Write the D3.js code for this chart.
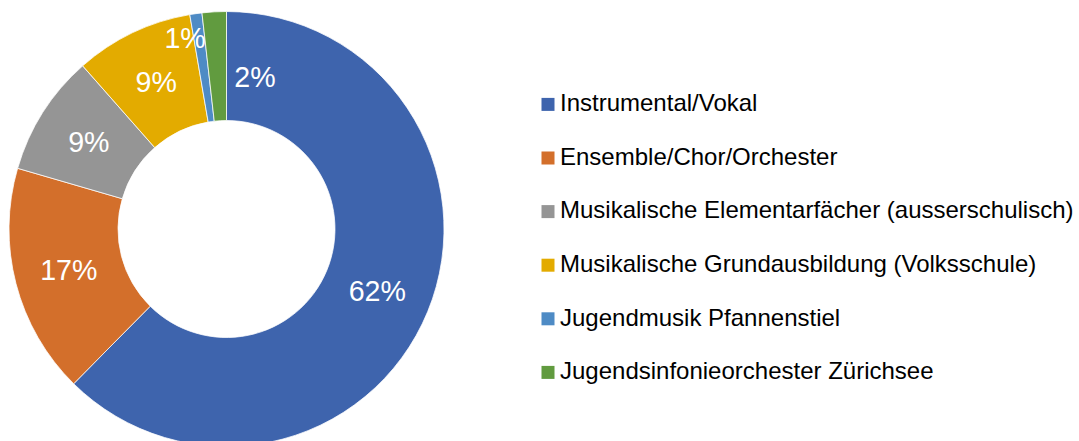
<!DOCTYPE html>
<html>
<head>
<meta charset="utf-8">
<script src="https://cdn.jsdelivr.net/npm/d3@7"></script>
<style>
  html, body { margin: 0; padding: 0; background: #fff; }
  svg { display: block; font-family: "Liberation Sans", Arial, sans-serif; }
</style>
</head>
<body>
<svg width="1079" height="441"></svg>
<script>
// Data
const categories = [
    "Instrumental/Vokal",
    "Ensemble/Chor/Orchester",
    "Musikalische Elementarfächer (ausserschulisch)",
    "Musikalische Grundausbildung (Volksschule)",
    "Jugendmusik Pfannenstiel",
    "Jugendsinfonieorchester Zürichsee"
];
const shares = [62.4, 17.1, 9.0, 8.8, 0.9, 1.8];
const colors = ["#3e64ad", "#d36f2b", "#959595", "#e3ab00", "#4e8bc5", "#619b3f"];

const svg = d3.select("svg"),
    cx = 226.5,
    cy = 229,
    outerR = 217.5,
    innerR = 108.5;

// labels for the two thin slices were dragged off their centroid
const labelShift = { 4: [-18.5, -29.6], 5: [37.7, 10.7] };

const pie = d3.pie().sort(null).value(d => d.v);
const arc = d3.arc().innerRadius(innerR).outerRadius(outerR);
const total = d3.sum(shares);
const fmt = d3.format(".0%");

const rows = categories.map((c, i) => ({ name: c, v: shares[i], color: colors[i] }));
const arcs = pie(rows);

const g = svg.append("g")
    .attr("transform", "translate(" + cx + "," + cy + ")");

g.selectAll("path")
    .data(arcs)
    .join("path")
    .attr("d", arc)
    .attr("fill", d => d.data.color)
    .attr("stroke", "#fff")
    .attr("stroke-width", 0.75);

// data labels
const labelSize = 28.6;
g.selectAll("text")
    .data(arcs)
    .join("text")
    .attr("transform", (d, i) => {
        let c = arc.centroid(d);
        let s = labelShift[i] || [0, 0];
        return "translate(" + (c[0] + s[0]) + "," + (c[1] + s[1] + labelSize * 0.36) + ")";
    })
    .attr("text-anchor", "middle")
    .attr("fill", "#fff")
    .style("font-size", labelSize + "px")
    .text(d => fmt(d.data.v / total));

// Legend
const legendY = d3.scalePoint()
    .domain(categories)
    .range([104.4, 372.4]);

const legend = svg.append("g")
    .selectAll("g")
    .data(rows)
    .join("g")
    .attr("transform", d => "translate(541.5," + legendY(d.name) + ")");

legend.append("rect")
    .attr("x", 0)
    .attr("y", -6.5)
    .attr("width", 13)
    .attr("height", 13)
    .attr("fill", d => d.color);

legend.append("text")
    .attr("x", 18.5)
    .attr("y", 6.8)
    .attr("fill", "#000")
    .style("font-size", "24px")
    .text(d => d.name);
</script>
</body>
</html>
